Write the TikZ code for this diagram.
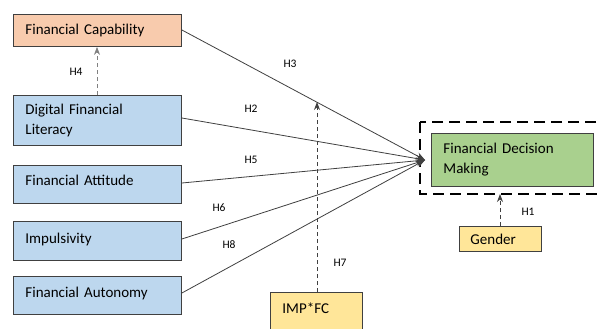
\documentclass[tikz,border=0pt]{standalone}
\usepackage{fontspec}
\setmainfont{Carlito}
\usetikzlibrary{arrows.meta}
\definecolor{orangefill}{HTML}{F8CBAD}
\definecolor{bluefill}{HTML}{BDD7EE}
\definecolor{greenfill}{HTML}{A9D08E}
\definecolor{yellowfill}{HTML}{FFE699}
\definecolor{edgegray}{HTML}{404040}
\tikzset{
  varbox/.style={draw=edgegray, line width=0.9pt, anchor=north west, align=left,
     inner xsep=12pt, inner ysep=0pt, font=\fontsize{15}{20}\selectfont},
  hlabel/.style={font=\fontsize{11.5}{13}\selectfont},
  link/.style={draw=edgegray, line width=0.8pt, -{Stealth[length=9pt,width=7pt]}},
  dlink/.style={draw=edgegray, line width=0.8pt, dashed, dash pattern=on 4pt off 3pt, -{Stealth[length=8pt,width=6pt]}}
}
\begin{document}
\begin{tikzpicture}[x=1pt,y=-1pt]
\useasboundingbox (0,0) rectangle (597,329);
\clip (0,0) rectangle (597,329);
\fill[white] (0,0) rectangle (597,329);
% left boxes
\node[varbox, fill=orangefill, text width=144pt, minimum height=32pt] (fc) at (13,14) {Financial Capability};
\node[varbox, fill=bluefill, text width=144pt, minimum height=50pt] (dfl) at (13,95) {Digital Financial\\Literacy};
\node[varbox, fill=bluefill, text width=144pt, minimum height=38pt, text height=11pt, text depth=9pt] (fa) at (13,165) {Financial Attitude};
\node[varbox, fill=bluefill, text width=144pt, minimum height=39pt, text height=11pt, text depth=6pt] (imp) at (13,221) {Impulsivity};
\node[varbox, fill=bluefill, text width=144pt, minimum height=38pt, text height=11pt, text depth=7.5pt] (faut) at (13,276) {Financial Autonomy};
% outcome
\draw[black, line width=2pt, dash pattern=on 11pt off 6pt] (420,122) rectangle (640,194);
\coordinate (dashtop) at (500,194);
\node[varbox, fill=greenfill, text width=138pt, minimum height=53pt] (fdm) at (431,133) {Financial Decision\\Making};
\coordinate (conv) at (425,160);
% moderators
\node[varbox, fill=yellowfill, inner xsep=11pt, text width=60pt, minimum height=25pt] (gender) at (459,226) {Gender};
\node[varbox, fill=yellowfill, text width=68pt, minimum height=50pt, text height=11pt, text depth=19pt] (impfc) at (270,292) {IMP*FC};
% main paths
\draw[link] (fc.east |- 0,30) -- (conv);
\draw[link] (dfl.east |- 0,118) -- (conv);
\draw[link] (fa.east |- 0,183) -- (conv);
\draw[link] (imp.east |- 0,239) -- (conv);
\draw[link] (faut.east |- 0,293) -- (conv);
% moderating paths
\coordinate (modpt) at (317,102);
\draw[dlink] (impfc.north -| modpt) -- (modpt);
\draw[dlink, draw=gray] (dfl.north -| 97,0) -- (fc.south -| 97,0);
\draw[dlink] (gender.north -| dashtop) -- (dashtop);
% labels
\node[hlabel] (h3) at (290,64) {H3};
\node[hlabel] (h2) at (251,109) {H2};
\node[hlabel] (h5) at (251,160) {H5};
\node[hlabel] (h6) at (219,208) {H6};
\node[hlabel] (h8) at (229,245) {H8};
\node[hlabel] (h7) at (340,263) {H7};
\node[hlabel] (h4) at (76,72) {H4};
\node[hlabel] (h1) at (528,212) {H1};
\end{tikzpicture}
\end{document}
